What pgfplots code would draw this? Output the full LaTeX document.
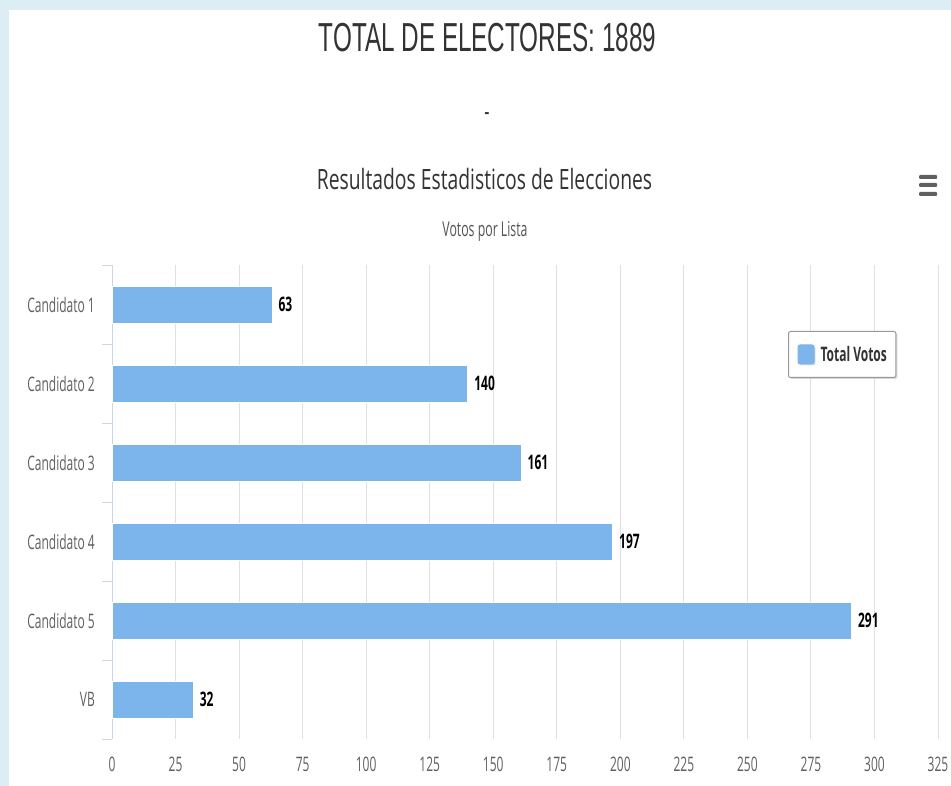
\documentclass[border=0pt]{standalone}
\usepackage{fontspec}
\usepackage{pgfplots}
\pgfplotsset{compat=1.18}
\usetikzlibrary{shadows}
\newfontfamily\tf[FakeStretch=0.6]{Liberation Sans}
\newfontfamily\cf[FakeStretch=0.6]{Open Sans}
\newfontfamily\ctf[FakeStretch=0.69]{Open Sans}
\definecolor{bgc}{HTML}{DCEEF4}
\definecolor{barc}{HTML}{7CB5EC}
\definecolor{gridc}{HTML}{E0E0E0}
\definecolor{axc}{HTML}{CCD6EB}
\definecolor{labc}{HTML}{606060}
\definecolor{tcol}{HTML}{333333}
\definecolor{subc}{HTML}{555555}
\definecolor{legc}{HTML}{999999}
\begin{document}
\begin{tikzpicture}
\useasboundingbox (0,0) rectangle (951bp,786bp);
\fill[bgc] (0,0) rectangle (951bp,786bp);
\fill[white] (9bp,0) rectangle (951bp,776bp);
\node[anchor=base, inner sep=0, text=tcol] at (487.5bp,734bp) {\tf\fontsize{40.5bp}{48bp}\selectfont TOTAL DE ELECTORES: 1889};
\node[anchor=base, inner sep=0, text=tcol] at (487bp,665bp) {\tf\fontsize{26bp}{30bp}\selectfont -};
\node[anchor=base, inner sep=0, text=tcol] at (484.5bp,596bp) {\ctf\fontsize{28bp}{32bp}\selectfont Resultados Estadisticos de Elecciones};
\node[anchor=base, inner sep=0, text=subc] at (485bp,549bp) {\cf\fontsize{20.5bp}{24bp}\selectfont Votos por Lista};
\fill[labc, rounded corners=1bp] (919bp,607bp) rectangle (937bp,611bp);
\fill[labc, rounded corners=1bp] (919bp,599bp) rectangle (937bp,603bp);
\fill[labc, rounded corners=1bp] (919bp,590bp) rectangle (937bp,594bp);
\begin{axis}[
  at={(112bp,47bp)}, anchor=south west,
  scale only axis, width=826bp, height=474bp,
  xbar, bar width=37bp,
  xmin=0, xmax=325, ymin=-0.5, ymax=5.5, y dir=reverse,
  axis x line*=bottom, axis y line*=left,
  x axis line style={draw=none},
  y axis line style={draw=axc, line width=1bp},
  xtick={0,25,...,325},
  xmajorgrids, major grid style={draw=gridc, line width=1bp},
  ytick={0,1,2,3,4,5},
  yticklabels={Candidato 1,Candidato 2,Candidato 3,Candidato 4,Candidato 5,VB},
  major tick length=0bp,
  minor ytick={-0.5,0.5,...,5.5},
  minor y tick style={draw=axc, line width=1bp},
  minor tick length=10bp,
  tick align=outside,
  /pgf/number format/assume math mode=true,
  xticklabel style={font=\cf\fontsize{20bp}{24bp}\selectfont, text=labc, anchor=base, inner sep=0, yshift=-32bp},
  yticklabel style={font=\cf\fontsize{20bp}{24bp}\selectfont, text=labc, anchor=east, inner sep=0, xshift=-17bp},
  nodes near coords,
  nodes near coords style={font=\cf\bfseries\fontsize{20bp}{24bp}\selectfont, text=black, anchor=west, inner sep=0, xshift=6bp},
  legend style={at={(0.8184,0.8608)}, anchor=north west, draw=legc, line width=1bp, rounded corners=2bp, fill=white, inner xsep=9bp, inner ysep=13bp, font=\cf\bfseries\fontsize{20bp}{24bp}\selectfont, text=tcol, drop shadow={opacity=0.3, shadow xshift=1.5bp, shadow yshift=-1.5bp}, nodes={inner sep=0, anchor=west}},
  legend image code/.code={\fill[barc] (0bp,-9.5bp) rectangle (16bp,9.5bp); \path (22bp,0bp);},
]
\addplot[fill=barc, draw=white, line width=1bp] coordinates {(63,0) (140,1) (161,2) (197,3) (291,4) (32,5)};
\legend{Total Votos}
\end{axis}
\end{tikzpicture}
\end{document}
